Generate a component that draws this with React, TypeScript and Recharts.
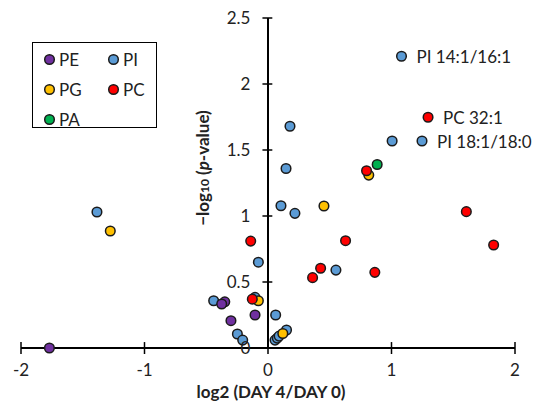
import React from 'react';
import { ScatterChart, Scatter, XAxis, YAxis, ReferenceLine } from 'recharts';

const xTicks = [-2, -1, 0, 1, 2];
const yTicks = [0, 0.5, 1, 1.5, 2, 2.5];

const PI = [
  { x: -1.385, y: 1.03 }, { x: 0.105, y: 1.078 }, { x: 0.218, y: 1.02 }, { x: -0.078, y: 0.65 },
  { x: -0.44, y: 0.358 }, { x: -0.105, y: 0.384 }, { x: -0.248, y: 0.106 }, { x: -0.205, y: 0.06 },
  { x: 0.062, y: 0.25 }, { x: 0.057, y: 0.06 }, { x: 0.075, y: 0.075 }, { x: 0.09, y: 0.09 },
  { x: 0.15, y: 0.136 }, { x: 0.55, y: 0.59 }, { x: 1.005, y: 1.568 }, { x: 0.178, y: 1.68 },
  { x: 0.146, y: 1.36 },
  { x: 1.081, y: 2.21, label: 'PI 14:1/16:1' },
  { x: 1.247, y: 1.568, label: 'PI 18:1/18:0' },
];
const PE = [
  { x: -1.77, y: 0 }, { x: -0.35, y: 0.35 }, { x: -0.375, y: 0.333 }, { x: -0.3, y: 0.207 }, { x: -0.105, y: 0.25 },
];
const PG = [
  { x: -1.277, y: 0.886 }, { x: -0.078, y: 0.358 }, { x: 0.12, y: 0.11 }, { x: 0.453, y: 1.076 }, { x: 0.816, y: 1.31 },
];
const PC = [
  { x: -0.14, y: 0.81 }, { x: -0.127, y: 0.37 }, { x: 0.628, y: 0.813 }, { x: 0.426, y: 0.604 },
  { x: 0.361, y: 0.533 }, { x: 0.865, y: 0.573 }, { x: 1.606, y: 1.033 }, { x: 1.827, y: 0.78 },
  { x: 0.798, y: 1.343 },
  { x: 1.296, y: 1.748, label: 'PC 32:1' },
];
const PA = [{ x: 0.884, y: 1.39 }];

const COLORS: Record<string, string> = {
  PE: '#7030A0', PI: '#5B9BD5', PG: '#FFC000', PC: '#FF0000', PA: '#00B050',
};

const FONT = 'Lato, sans-serif';
const TEXT = '#222';

const makeShape = (color: string) => (props: any) => {
  const { cx, cy, payload } = props;
  return (
    <g>
      <circle cx={cx} cy={cy} r={4.8} fill={color} stroke="#1a1a1a" strokeWidth={1.5} />
      {payload && payload.label ? (
        <text x={cx + 15} y={cy} dominantBaseline="central" fontSize={17} fontFamily={FONT} fill={TEXT}>
          {payload.label}
        </text>
      ) : null}
    </g>
  );
};

const legendItems = [
  { name: 'PE', col: 0, row: 0 },
  { name: 'PI', col: 1, row: 0 },
  { name: 'PG', col: 0, row: 1 },
  { name: 'PC', col: 1, row: 1 },
  { name: 'PA', col: 0, row: 2 },
];

export default function App() {
  return (
    <div style={{ position: 'absolute', left: 0, top: 0, width: 539, height: 404, background: '#fff', fontFamily: FONT }}>
      <ScatterChart width={539} height={404} margin={{ top: 18, right: 24, bottom: 0, left: 21 }}>
        <XAxis
          type="number"
          dataKey="x"
          domain={[-2, 2]}
          ticks={xTicks}
          height={56}
          axisLine={{ stroke: '#000', strokeWidth: 2 }}
          tickLine={{ stroke: '#000', strokeWidth: 1.5 }}
          tickSize={6}
          tickMargin={10}
          tick={{ fill: TEXT, fontSize: 17, fontFamily: FONT }}
        />
        <YAxis type="number" dataKey="y" domain={[0, 2.5]} hide />
        <ReferenceLine x={0} stroke="#000" strokeWidth={2} />
        {xTicks.map((v) => (
          <ReferenceLine
            key={'xt' + v}
            segment={[{ x: v, y: 0 }, { x: v, y: 0.045 }]}
            stroke="#000"
            strokeWidth={1.5}
            ifOverflow="visible"
          />
        ))}
        {yTicks.map((v) => (
          <ReferenceLine
            key={'yt' + v}
            segment={[{ x: -0.045, y: v }, { x: 0.035, y: v }]}
            stroke="#000"
            strokeWidth={1.5}
            ifOverflow="visible"
            label={{ value: String(v), position: 'left', offset: 12, fill: TEXT, fontSize: 17, fontFamily: FONT }}
          />
        ))}
        <Scatter name="PI" data={PI} isAnimationActive={false} shape={makeShape(COLORS.PI)} />
        <Scatter name="PE" data={PE} isAnimationActive={false} shape={makeShape(COLORS.PE)} />
        <Scatter name="PG" data={PG} isAnimationActive={false} shape={makeShape(COLORS.PG)} />
        <Scatter name="PC" data={PC} isAnimationActive={false} shape={makeShape(COLORS.PC)} />
        <Scatter name="PA" data={PA} isAnimationActive={false} shape={makeShape(COLORS.PA)} />
      </ScatterChart>

      <div
        style={{
          position: 'absolute', left: 32, top: 42, width: 125, height: 86,
          border: '1.5px solid #000', boxSizing: 'border-box', background: '#fff',
        }}
      >
        {legendItems.map((it) => (
          <div
            key={it.name}
            style={{
              position: 'absolute', left: 10 + it.col * 64, top: 6 + it.row * 30, height: 20,
              display: 'flex', alignItems: 'center', fontSize: 17, color: TEXT, whiteSpace: 'nowrap',
            }}
          >
            <svg width={13} height={13} style={{ marginRight: 3 }}>
              <circle cx={6.5} cy={6.5} r={4.8} fill={COLORS[it.name]} stroke="#1a1a1a" strokeWidth={1.5} />
            </svg>
            {it.name}
          </div>
        ))}
      </div>

      <div
        style={{
          position: 'absolute', left: 103, top: 158, width: 200, height: 20, lineHeight: '20px',
          textAlign: 'center', transform: 'rotate(-90deg)', fontWeight: 'bold', fontSize: 17, color: TEXT,
          whiteSpace: 'nowrap',
        }}
      >
        −log<span style={{ fontSize: 12 }}>10</span> (<i>p</i>-value)
      </div>

      <div
        style={{
          position: 'absolute', left: 171, top: 382, width: 200, height: 20, lineHeight: '20px',
          textAlign: 'center', fontWeight: 'bold', fontSize: 17, color: TEXT, whiteSpace: 'nowrap',
        }}
      >
        log2 (DAY 4/DAY 0)
      </div>
    </div>
  );
}
